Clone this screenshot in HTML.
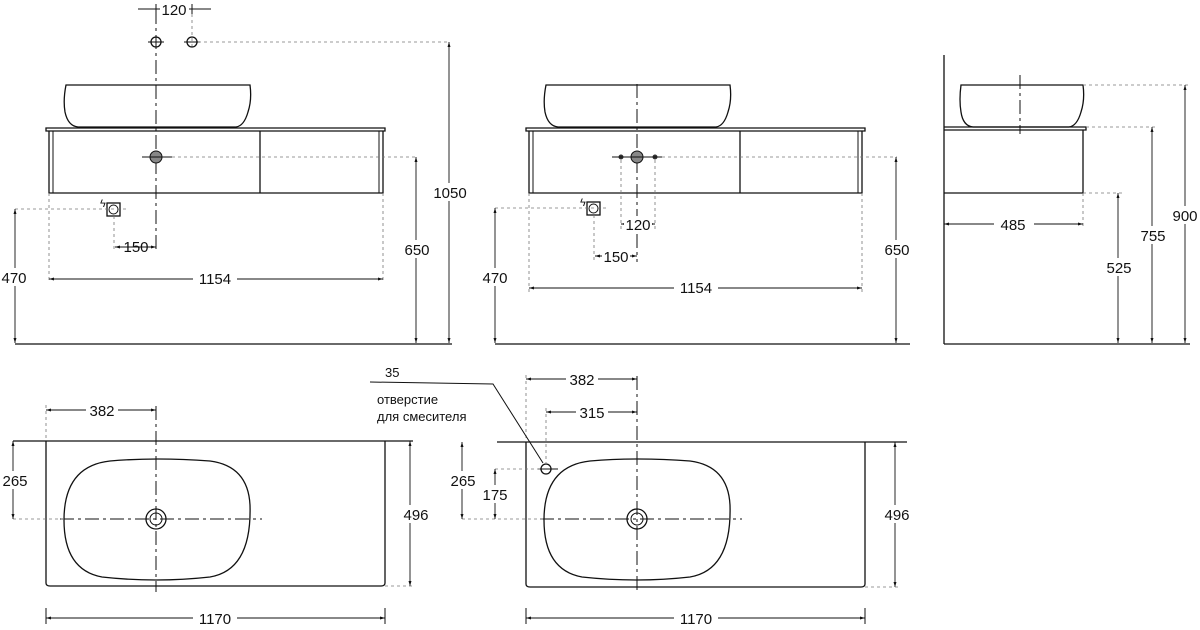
<!DOCTYPE html>
<html><head><meta charset="utf-8"><style>
html,body{margin:0;padding:0;background:#fff}
svg{display:block}
text{font-family:"Liberation Sans","DejaVu Sans",sans-serif;font-size:15px;fill:#111}
.l{stroke:#111;stroke-width:1.3;fill:none}
.t{stroke:#111;stroke-width:1;fill:none}
.d{stroke:#777;stroke-width:0.8;stroke-dasharray:3 3;fill:none}
.c{stroke:#111;stroke-width:1;stroke-dasharray:14 4 3 4;fill:none}
.a{stroke:#111;stroke-width:0.9;fill:none;marker-start:url(#ar);marker-end:url(#ar)}
</style></head><body>
<svg width="1200" height="630" viewBox="0 0 1200 630" xmlns="http://www.w3.org/2000/svg">
<defs><marker id="ar" viewBox="0 0 10 10" refX="10" refY="5" markerWidth="9" markerHeight="5" orient="auto-start-reverse" markerUnits="userSpaceOnUse"><path d="M0,2 L10,5 L0,8z" fill="#111"/></marker></defs>

<!-- VIEW 1 -->
<line class="t" x1="138" y1="9" x2="211" y2="9"/><line class="t" x1="156" y1="4" x2="156" y2="14"/><line class="t" x1="192" y1="4" x2="192" y2="14"/>
<rect x="160" y="2" width="29" height="15" fill="#fff"/>
<text x="174" y="15" text-anchor="middle">120</text>
<line class="d" x1="192" y1="14" x2="192" y2="48"/>
<line class="c" x1="156" y1="10" x2="156" y2="250"/>
<circle class="l" cx="156" cy="42" r="5"/><circle class="l" cx="192" cy="42" r="5"/>
<line class="t" x1="148" y1="42" x2="164" y2="42"/><line class="t" x1="184" y1="42" x2="200" y2="42"/>
<line class="d" x1="198" y1="42" x2="449" y2="42"/>
<path class="l" d="M66,85 L250,85 Q252,100 248,112 Q244,126 236,127 L78,127 Q68,126 65,112 Q63,100 66,85z"/>
<path class="l" d="M46,128 L385,128 L385,131 L46,131z"/>
<path class="l" d="M49,131 L49,193 L383,193 L383,131"/>
<line class="t" x1="53" y1="131" x2="53" y2="193"/><line class="t" x1="379" y1="131" x2="379" y2="193"/>
<line class="l" x1="260" y1="131" x2="260" y2="193"/>
<circle cx="156" cy="157" r="6" fill="#888" stroke="#111"/>
<line class="t" x1="142" y1="157" x2="172" y2="157"/>
<line class="d" x1="172" y1="157" x2="416" y2="157"/>
<rect class="l" x="107" y="203" width="13" height="13"/><circle class="t" cx="113.5" cy="209.5" r="4.5"/>
<text x="100" y="207" style="font-size:11px">ϟ</text>
<line class="d" x1="15" y1="209" x2="128" y2="209"/>
<line class="d" x1="114" y1="216" x2="114" y2="250"/>
<line class="a" x1="115" y1="247" x2="156" y2="247"/><text x="136" y="252" text-anchor="middle">150</text>
<line class="d" x1="49" y1="193" x2="49" y2="283"/><line class="d" x1="383" y1="193" x2="383" y2="283"/>
<line class="a" x1="49" y1="279" x2="383" y2="279"/><rect x="193" y="270" width="44" height="16" fill="#fff"/><text x="215" y="284" text-anchor="middle">1154</text>
<line class="a" x1="15" y1="209" x2="15" y2="343"/><rect x="2" y="268" width="30" height="18" fill="#fff"/><text x="14" y="283" text-anchor="middle">470</text>
<line class="a" x1="416" y1="157" x2="416" y2="343"/><rect x="402" y="240" width="30" height="18" fill="#fff"/><text x="417" y="255" text-anchor="middle">650</text>
<line class="a" x1="449" y1="42" x2="449" y2="343"/><rect x="430" y="183" width="40" height="18" fill="#fff"/><text x="450" y="198" text-anchor="middle">1050</text>
<line class="l" x1="15" y1="344" x2="452" y2="344"/>

<!-- VIEW 2 -->
<path class="l" d="M546,85 L730,85 Q732,100 728,112 Q724,126 716,127 L558,127 Q548,126 545,112 Q543,100 546,85z"/>
<path class="l" d="M526,128 L865,128 L865,131 L526,131z"/>
<path class="l" d="M529,131 L529,193 L862,193 L862,131"/>
<line class="t" x1="533" y1="131" x2="533" y2="193"/><line class="t" x1="858" y1="131" x2="858" y2="193"/>
<line class="l" x1="740" y1="131" x2="740" y2="193"/>
<line class="c" x1="637" y1="84" x2="637" y2="262"/>
<circle cx="637" cy="157" r="6" fill="#888" stroke="#111"/>
<circle cx="621" cy="157" r="2.5" fill="#333"/><circle cx="655" cy="157" r="2.5" fill="#333"/>
<line class="t" x1="612" y1="157" x2="662" y2="157"/>
<line class="d" x1="662" y1="157" x2="897" y2="157"/>
<line class="d" x1="621" y1="160" x2="621" y2="230"/><line class="d" x1="655" y1="160" x2="655" y2="230"/>
<rect class="l" x="587" y="202" width="13" height="13"/><circle class="t" cx="593.5" cy="208.5" r="4.5"/>
<text x="580" y="206" style="font-size:11px">ϟ</text>
<line class="d" x1="495" y1="208" x2="606" y2="208"/>
<line class="d" x1="594" y1="215" x2="594" y2="260"/>
<line class="a" x1="621" y1="224" x2="655" y2="224"/><rect x="624" y="216" width="28" height="16" fill="#fff"/><text x="638" y="230" text-anchor="middle">120</text>
<line class="a" x1="595" y1="256" x2="637" y2="256"/><rect x="602" y="248" width="28" height="16" fill="#fff"/><text x="616" y="262" text-anchor="middle">150</text>
<line class="d" x1="529" y1="193" x2="529" y2="292"/><line class="d" x1="862" y1="193" x2="862" y2="292"/>
<line class="a" x1="529" y1="288" x2="862" y2="288"/><rect x="674" y="279" width="44" height="16" fill="#fff"/><text x="696" y="293" text-anchor="middle">1154</text>
<line class="a" x1="495" y1="208" x2="495" y2="343"/><rect x="481" y="268" width="30" height="18" fill="#fff"/><text x="495" y="283" text-anchor="middle">470</text>
<line class="a" x1="896" y1="157" x2="896" y2="343"/><rect x="882" y="240" width="30" height="18" fill="#fff"/><text x="897" y="255" text-anchor="middle">650</text>
<line class="l" x1="495" y1="344" x2="910" y2="344"/>

<!-- VIEW 3 -->
<line class="l" x1="944" y1="55" x2="944" y2="344"/>
<path class="l" d="M961,85 L1083,85 Q1085,100 1081,112 Q1077,126 1069,127 L973,127 Q963,126 961,112 Q959,100 961,85z"/>
<line class="c" x1="1020" y1="75" x2="1020" y2="134"/>
<path class="l" d="M944,127 L1086,127 L1086,130 L944,130"/>
<path class="l" d="M1083,130 L1083,193 L944,193"/>
<line class="d" x1="1086" y1="127" x2="1156" y2="127"/>
<line class="d" x1="1083" y1="193" x2="1122" y2="193"/>
<line class="d" x1="1083" y1="85" x2="1188" y2="85"/>
<line class="d" x1="1083" y1="193" x2="1083" y2="228"/>
<line class="a" x1="944" y1="224" x2="1083" y2="224"/><rect x="994" y="216" width="40" height="16" fill="#fff"/><text x="1013" y="230" text-anchor="middle">485</text>
<line class="a" x1="1118" y1="193" x2="1118" y2="343"/><rect x="1104" y="258" width="30" height="18" fill="#fff"/><text x="1119" y="273" text-anchor="middle">525</text>
<line class="a" x1="1152" y1="127" x2="1152" y2="343"/><rect x="1138" y="226" width="30" height="18" fill="#fff"/><text x="1153" y="241" text-anchor="middle">755</text>
<line class="a" x1="1185" y1="85" x2="1185" y2="343"/><rect x="1171" y="206" width="28" height="18" fill="#fff"/><text x="1185" y="221" text-anchor="middle">900</text>
<line class="l" x1="944" y1="344" x2="1190" y2="344"/>

<!-- PLAN 1 -->
<line class="l" x1="13" y1="441" x2="413" y2="441"/>
<path class="l" d="M46,441 L46,583 Q46,586 50,586 L381,586 Q385,586 385,583 L385,441"/>
<path class="l" d="M110,461 Q156,457 210,461 Q248,466 250,505 Q252,570 210,577 Q156,583 102,577 Q64,570 64,520 Q64,466 110,461z"/>
<line class="c" x1="60" y1="519" x2="262" y2="519"/>
<line class="c" x1="156" y1="406" x2="156" y2="592"/>
<circle class="l" cx="156" cy="519" r="10"/><circle class="t" cx="156" cy="519" r="6"/>
<line class="d" x1="46" y1="405" x2="46" y2="441"/>
<line class="a" x1="46" y1="410" x2="156" y2="410"/><rect x="86" y="402" width="32" height="16" fill="#fff"/><text x="102" y="416" text-anchor="middle">382</text>
<line class="d" x1="13" y1="519" x2="64" y2="519"/>
<line class="a" x1="13" y1="441" x2="13" y2="519"/><rect x="0" y="471" width="30" height="18" fill="#fff"/><text x="15" y="486" text-anchor="middle">265</text>
<line class="a" x1="410" y1="441" x2="410" y2="586"/><rect x="398" y="505" width="36" height="18" fill="#fff"/><text x="416" y="520" text-anchor="middle">496</text>
<line class="d" x1="385" y1="586" x2="413" y2="586"/>
<line class="t" x1="46" y1="608" x2="46" y2="624"/><line class="t" x1="385" y1="608" x2="385" y2="624"/>
<line class="a" x1="46" y1="618" x2="385" y2="618"/><rect x="193" y="610" width="44" height="16" fill="#fff"/><text x="215" y="624" text-anchor="middle">1170</text>

<!-- PLAN 2 -->
<line class="l" x1="497" y1="442" x2="907" y2="442"/>
<path class="l" d="M526,442 L526,584 Q526,587 530,587 L861,587 Q865,587 865,584 L865,442"/>
<path class="l" d="M590,461 Q637,457 690,461 Q728,466 730,505 Q732,570 690,577 Q637,583 582,577 Q544,570 544,520 Q544,466 590,461z"/>
<line class="c" x1="540" y1="519" x2="742" y2="519"/>
<line class="c" x1="637" y1="376" x2="637" y2="592"/>
<circle class="l" cx="637" cy="519" r="10"/><circle class="t" cx="637" cy="519" r="6"/>
<circle class="l" cx="546" cy="469" r="5"/><line class="t" x1="538" y1="469" x2="558" y2="469"/>
<line class="d" x1="546" y1="408" x2="546" y2="464"/>
<line class="d" x1="526" y1="375" x2="526" y2="442"/>
<line class="a" x1="526" y1="379" x2="637" y2="379"/><rect x="566" y="371" width="32" height="16" fill="#fff"/><text x="582" y="385" text-anchor="middle">382</text>
<line class="a" x1="546" y1="412" x2="637" y2="412"/><rect x="576" y="404" width="32" height="16" fill="#fff"/><text x="592" y="418" text-anchor="middle">315</text>
<line class="d" x1="462" y1="519" x2="544" y2="519"/>
<line class="d" x1="495" y1="469" x2="540" y2="469"/>
<line class="a" x1="462" y1="442" x2="462" y2="519"/><rect x="449" y="471" width="30" height="18" fill="#fff"/><text x="463" y="486" text-anchor="middle">265</text>
<line class="a" x1="495" y1="469" x2="495" y2="519"/><rect x="481" y="485" width="30" height="18" fill="#fff"/><text x="495" y="500" text-anchor="middle">175</text>
<line class="a" x1="895" y1="442" x2="895" y2="587"/><rect x="880" y="505" width="36" height="18" fill="#fff"/><text x="897" y="520" text-anchor="middle">496</text>
<line class="d" x1="865" y1="587" x2="900" y2="587"/>
<line class="t" x1="526" y1="608" x2="526" y2="624"/><line class="t" x1="865" y1="608" x2="865" y2="624"/>
<line class="a" x1="526" y1="618" x2="865" y2="618"/><rect x="674" y="610" width="44" height="16" fill="#fff"/><text x="696" y="624" text-anchor="middle">1170</text>
<!-- leader -->
<text x="385" y="377" style="font-size:13px">35</text>
<polyline class="t" points="370,382 493,384 543,463"/>
<text x="377" y="404" style="font-size:13px">отверстие</text>
<text x="377" y="421" style="font-size:13px">для смесителя</text>
</svg>
</body></html>
